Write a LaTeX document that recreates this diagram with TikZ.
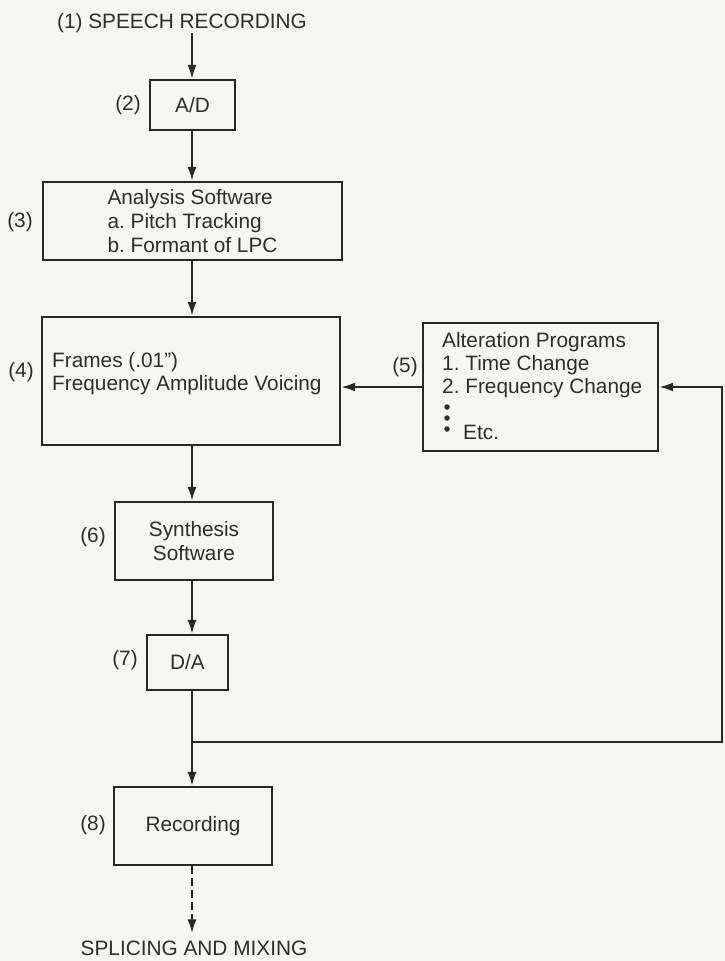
\documentclass[tikz,border=0pt]{standalone}
\usepackage{fontspec}
\setmainfont{Liberation Sans}
\usetikzlibrary{arrows.meta,calc}
\definecolor{ink}{RGB}{40,40,40}
\definecolor{txt}{RGB}{45,45,45}
\definecolor{paper}{RGB}{246,246,242}
\begin{document}
\frenchspacing
\begin{tikzpicture}[x=1pt,y=-1pt,
  every node/.style={text=txt,font=\fontsize{20.8}{24}\selectfont},
  box/.style={draw=ink,line width=2.2pt,rectangle,inner sep=0pt},
  lbl/.style={inner sep=0pt},
  arr/.style={draw=ink,line width=2.2pt,-{Latex[length=14pt,width=9pt]}},
  dotmark/.style={circle,fill=txt,inner sep=0pt,minimum size=5.5pt}]
\fill[paper] (0,0) rectangle (725,961);
\useasboundingbox (0,0) rectangle (725,961);

% title
\node[lbl] (title) at (182,23) {(1) SPEECH RECORDING};

% boxes
\node[box,minimum width=85pt,minimum height=50pt] (ad) at (192.5,105) {A/D};
\node[lbl] (l2) at (128,105) {(2)};

\node[box,minimum width=299pt,minimum height=78pt,align=left] (ana) at (192.5,221)
  {Analysis Software\\a. Pitch Tracking\\b. Formant of LPC};
\node[lbl] (l3) at (20,222) {(3)};

\node[box,minimum width=298pt,minimum height=128pt] (frm) at (191,381) {};
\node[lbl,anchor=west,align=left,font=\fontsize{20.8}{23}\selectfont] (frmtxt) at (52,374)
  {Frames (.01'')\\Frequency Amplitude Voicing};
\node[lbl] (l4) at (21,372) {(4)};

\node[box,minimum width=235pt,minimum height=128pt] (alt) at (540.5,387) {};
\node[lbl,anchor=west,align=left,font=\fontsize{20.8}{23}\selectfont] (alttxt) at (442,365)
  {Alteration Programs\\1. Time Change\\2. Frequency Change};
\node[dotmark] (d1) at (447,407) {};
\node[dotmark] (d2) at (447,418) {};
\node[dotmark] (d3) at (447,429) {};
\node[lbl,anchor=west] (etc) at (463,432) {Etc.};
\node[lbl] (l5) at (405,367) {(5)};

\node[box,minimum width=158pt,minimum height=78pt,align=center] (syn) at (194,541)
  {Synthesis\\Software};
\node[lbl] (l6) at (93,537) {(6)};

\node[box,minimum width=81pt,minimum height=55pt] (da) at (187.5,662.5) {D/A};
\node[lbl] (l7) at (125,660) {(7)};

\node[box,minimum width=158pt,minimum height=78pt] (rec) at (193,826) {Recording};
\node[lbl] (l8) at (93,825) {(8)};

\node[lbl] (spl) at (194,948) {SPLICING AND MIXING};

% connectors
\coordinate (spine) at (192,0);
\coordinate (fbl) at (192,742);
\coordinate (fbr) at (722,742);

\draw[arr] (spine |- title.south) -- (spine |- ad.north);
\draw[arr] (spine |- ad.south) -- (spine |- ana.north);
\draw[arr] (spine |- ana.south) -- (spine |- frm.north);
\draw[arr] (alt.west) -- (frm.east |- alt.west);
\draw[arr] (spine |- frm.south) -- (spine |- syn.north);
\draw[arr] (spine |- syn.south) -- (spine |- da.north);
\draw[arr] (spine |- da.south) -- (spine |- rec.north);
\draw[arr] (fbl) -- (fbr) -- (fbr |- alt.east) -- (alt.east);
\draw[arr,dash pattern=on 8pt off 4pt,shorten >=7pt] (spine |- rec.south) -- (spine |- spl.north);
\end{tikzpicture}
\end{document}
